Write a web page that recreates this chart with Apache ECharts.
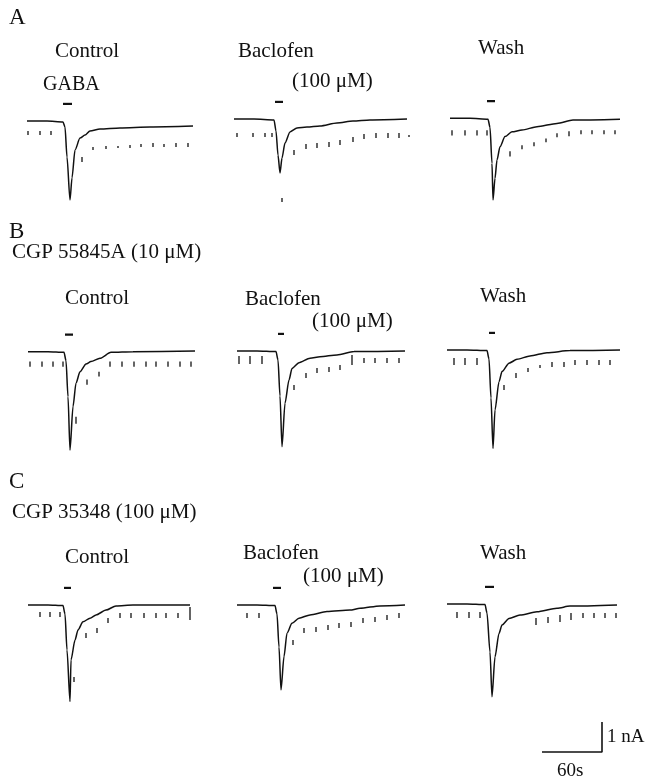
<!DOCTYPE html>
<html><head><meta charset="utf-8">
<script src="https://cdn.jsdelivr.net/npm/echarts@6/dist/echarts.min.js"></script>
<style>html,body{margin:0;padding:0;background:#fff}#c{width:645px;height:782px}</style>
</head><body><div id="c"></div>
<script>
// ---- DATA (time in s from trace start, current in nA) ----
const aControlT = [0,20,36,38,40,43,45,48,53,58,63,73,93,123,166];
const aControlI = [0,0,-0.03,-0.2,-1.2,-2.63,-1.9,-0.97,-0.57,-0.47,-0.33,-0.27,-0.23,-0.2,-0.17];
const aControlTickT = [1,13,24,55,66,79,91,103,114,126,137,149,161];
const aControlTickTop = [-0.33,-0.33,-0.33,-1.2,-0.87,-0.83,-0.83,-0.8,-0.77,-0.73,-0.77,-0.73,-0.73];
const aControlTickBot = [-0.47,-0.47,-0.47,-1.37,-0.97,-0.93,-0.9,-0.9,-0.87,-0.87,-0.87,-0.87,-0.87];

const aBacT = [0,20,40,42,44,46,48,51,56,63,73,86,103,119,136,173];
const aBacI = [0,0,-0.03,-0.4,-1.2,-1.8,-1.3,-0.8,-0.43,-0.3,-0.27,-0.23,-0.13,-0.07,-0.03,0];
const aBacTickT = [3,19,31,38,48,60,72,83,95,106,119,130,142,154,165,175];
const aBacTickTop = [-0.47,-0.47,-0.47,-0.47,-2.63,-1.03,-0.83,-0.8,-0.77,-0.7,-0.6,-0.5,-0.47,-0.47,-0.47,-0.53];
const aBacTickBot = [-0.6,-0.6,-0.6,-0.6,-2.77,-1.2,-1.0,-0.97,-0.93,-0.87,-0.77,-0.67,-0.63,-0.63,-0.63,-0.6];

const aWashT = [0,20,38,40,42,43,45,47,50,55,62,72,87,107,123,170];
const aWashI = [0,0,-0.03,-0.3,-1.5,-2.72,-2.0,-1.39,-0.95,-0.61,-0.45,-0.39,-0.28,-0.17,-0.06,-0.03];
const aWashTickT = [2,15,27,37,60,72,84,96,107,119,131,142,154,165];
const aWashTickTop = [-0.4,-0.4,-0.4,-0.4,-1.1,-0.9,-0.8,-0.67,-0.5,-0.43,-0.4,-0.4,-0.4,-0.4];
const aWashTickBot = [-0.57,-0.57,-0.57,-0.57,-1.27,-1.03,-0.93,-0.8,-0.63,-0.6,-0.53,-0.53,-0.53,-0.53];

const bControlT = [0,20,36,38,40,42,45,48,52,58,63,72,83,105,167];
const bControlI = [0,0,-0.02,-0.3,-1.5,-3.28,-1.83,-1.05,-0.67,-0.41,-0.33,-0.22,-0.02,0,0.02];
const bControlTickT = [2,14,25,35,48,59,71,82,94,106,118,128,140,152,163];
const bControlTickTop = [-0.33,-0.33,-0.33,-0.33,-2.17,-0.93,-0.67,-0.33,-0.33,-0.33,-0.33,-0.33,-0.33,-0.33,-0.33];
const bControlTickBot = [-0.5,-0.5,-0.5,-0.5,-2.4,-1.1,-0.83,-0.5,-0.5,-0.5,-0.5,-0.5,-0.5,-0.5,-0.5];

const bBacT = [0,20,39,41,43,45,48,52,55,62,73,83,100,117,168];
const bBacI = [0,0,-0.02,-0.3,-1.5,-3.19,-1.74,-0.97,-0.58,-0.39,-0.24,-0.19,-0.13,-0.02,0];
const bBacTickT = [2,13,25,57,69,80,92,103,115,127,138,150,162];
const bBacTickTop = [-0.17,-0.17,-0.17,-1.13,-0.73,-0.57,-0.53,-0.47,-0.13,-0.23,-0.23,-0.23,-0.23];
const bBacTickBot = [-0.43,-0.43,-0.43,-1.3,-0.9,-0.73,-0.7,-0.63,-0.47,-0.4,-0.4,-0.4,-0.4];

const bWashT = [0,20,40,42,44,46,48,52,55,62,70,83,100,123,173];
const bWashI = [0,0,-0.02,-0.3,-1.6,-3.28,-2.0,-1.06,-0.72,-0.44,-0.31,-0.2,-0.09,-0.02,0];
const bWashTickT = [7,18,30,57,69,81,93,105,117,128,140,152,163];
const bWashTickTop = [-0.27,-0.27,-0.27,-1.17,-0.77,-0.6,-0.5,-0.4,-0.4,-0.33,-0.33,-0.33,-0.33];
const bWashTickBot = [-0.5,-0.5,-0.5,-1.33,-0.93,-0.73,-0.6,-0.57,-0.57,-0.5,-0.5,-0.5,-0.5];

const cControlT = [0,20,35,37,39,42,43,47,50,55,62,68,78,88,105,162];
const cControlI = [0,0,-0.02,-0.3,-1.5,-3.22,-1.83,-1.17,-0.83,-0.56,-0.44,-0.33,-0.17,-0.03,0,0];
const cControlTickT = [12,22,32,46,58,69,80,92,103,116,128,138,150,162];
const cControlTickTop = [-0.23,-0.23,-0.23,-2.4,-0.93,-0.77,-0.43,-0.27,-0.27,-0.27,-0.27,-0.27,-0.27,-0.07];
const cControlTickBot = [-0.4,-0.4,-0.4,-2.57,-1.1,-0.93,-0.6,-0.43,-0.43,-0.43,-0.43,-0.43,-0.43,-0.5];

const cBacT = [0,20,38,40,42,44,47,50,55,62,73,90,113,123,143,168];
const cBacI = [0,0,-0.02,-0.3,-1.4,-2.83,-1.72,-0.94,-0.61,-0.44,-0.33,-0.22,-0.17,-0.11,-0.03,0];
const cBacTickT = [10,22,56,67,79,91,102,114,126,138,150,162];
const cBacTickTop = [-0.27,-0.27,-1.17,-0.77,-0.73,-0.67,-0.6,-0.57,-0.43,-0.4,-0.33,-0.27];
const cBacTickBot = [-0.43,-0.43,-1.33,-0.93,-0.9,-0.83,-0.77,-0.73,-0.6,-0.57,-0.5,-0.43];

const cWashT = [0,20,38,40,43,45,48,52,55,62,73,90,110,123,170];
const cWashI = [0,0,-0.02,-0.3,-1.6,-3.09,-1.76,-0.98,-0.7,-0.48,-0.37,-0.26,-0.14,-0.07,-0.03];
const cWashTickT = [10,22,33,89,101,113,124,136,147,158,169];
const cWashTickTop = [-0.27,-0.27,-0.27,-0.47,-0.43,-0.37,-0.3,-0.3,-0.3,-0.3,-0.3];
const cWashTickBot = [-0.47,-0.47,-0.47,-0.7,-0.63,-0.6,-0.53,-0.47,-0.47,-0.47,-0.47];

// GABA application bars (start, end in s) for the 9 traces (row-major)
const gabaStart = [36,41,37, 37,41,42, 36,36,38];
const gabaEnd   = [45,49,45, 45,47,48, 43,44,47];

// scale bar: 60 s, 1 nA
const scaleBarT = [0,60,60];
const scaleBarI = [0,0,1];

// ---- LAYOUT ----
const traces = [
  [aControlT,aControlI,aControlTickT,aControlTickTop,aControlTickBot],
  [aBacT,aBacI,aBacTickT,aBacTickTop,aBacTickBot],
  [aWashT,aWashI,aWashTickT,aWashTickTop,aWashTickBot],
  [bControlT,bControlI,bControlTickT,bControlTickTop,bControlTickBot],
  [bBacT,bBacI,bBacTickT,bBacTickTop,bBacTickBot],
  [bWashT,bWashI,bWashTickT,bWashTickTop,bWashTickBot],
  [cControlT,cControlI,cControlTickT,cControlTickTop,cControlTickBot],
  [cBacT,cBacI,cBacTickT,cBacTickTop,cBacTickBot],
  [cWashT,cWashI,cWashTickT,cWashTickTop,cWashTickBot]
];
const panelLeft = [27,234,450, 28,237,447, 28,237,447];
const panelBase = [121,119,118.3, 351.7,351,350, 605,605,604];
const PX_PER_NA = 30, YMAX = 1.0, YMIN = -3.5, XMAX = 180;
const gabaLevel = 0.57;

const grid = [], xAxis = [], yAxis = [], series = [];
const ink = '#111';
traces.forEach((tr, i) => {
  grid.push({left: panelLeft[i], top: panelBase[i] - YMAX*PX_PER_NA, width: XMAX, height: (YMAX-YMIN)*PX_PER_NA});
  xAxis.push({gridIndex: i, type: 'value', min: 0, max: XMAX, show: false});
  yAxis.push({gridIndex: i, type: 'value', min: YMIN, max: YMAX, show: false});
  const [t, I, tt, top, bot] = tr;
  series.push({type: 'line', xAxisIndex: i, yAxisIndex: i, data: t.map((v, k) => [v, I[k]]),
    showSymbol: false, symbol: 'none', smooth: 0.25, smoothMonotone: 'x', clip: false,
    lineStyle: {color: ink, width: 1.5}, animation: false, silent: true});
  const td = [];
  tt.forEach((v, k) => { td.push([v, top[k]]); td.push([v, bot[k]]); td.push([v, '-']); });
  series.push({type: 'line', xAxisIndex: i, yAxisIndex: i, data: td, connectNulls: false,
    showSymbol: false, symbol: 'none', clip: false,
    lineStyle: {color: '#111', width: 1.3}, animation: false, silent: true});
  series.push({type: 'line', xAxisIndex: i, yAxisIndex: i,
    data: [[gabaStart[i], gabaLevel], [gabaEnd[i], gabaLevel]],
    showSymbol: false, symbol: 'none', clip: false,
    lineStyle: {color: ink, width: 2.2}, animation: false, silent: true});
});
// scale bar grid
grid.push({left: 542, top: 722, width: 60, height: 30});
xAxis.push({gridIndex: 9, type: 'value', min: 0, max: 60, show: false});
yAxis.push({gridIndex: 9, type: 'value', min: 0, max: 1, show: false});
series.push({type: 'line', xAxisIndex: 9, yAxisIndex: 9, data: scaleBarT.map((v, k) => [v, scaleBarI[k]]),
  showSymbol: false, symbol: 'none', clip: false, lineStyle: {color: ink, width: 1.6}, animation: false});

// ---- TEXT ----
const FONT = '"Liberation Serif", "Times New Roman", serif';
function txt(s, x, baseline, size) {
  size = size || 21;
  return {type: 'text', x: x, y: baseline - size*0.35, silent: true,
    style: {text: s, fontFamily: FONT, fontSize: size, fill: ink, verticalAlign: 'middle', align: 'left'}};
}
const labels = [
  txt('A', 9, 26, 23), txt('Control', 55, 59), txt('GABA', 43, 92, 20), txt('Baclofen', 238, 59),
  txt('(100 \u03bcM)', 292, 89), txt('Wash', 478, 56),
  txt('B', 9, 240, 23), txt('CGP 55845A (10 \u03bcM)', 12, 260), txt('Control', 65, 306),
  txt('Baclofen', 245, 307), txt('(100 \u03bcM)', 312, 329), txt('Wash', 480, 304),
  txt('C', 9, 490, 23), txt('CGP 35348 (100 \u03bcM)', 12, 520), txt('Control', 65, 565),
  txt('Baclofen', 243, 561), txt('(100 \u03bcM)', 303, 584), txt('Wash', 480, 561),
  txt('1 nA', 607, 744, 19), txt('60s', 557, 778, 19)
];

const chart = echarts.init(document.getElementById('c'), null, {renderer: 'canvas'});
chart.setOption({backgroundColor: '#fff', animation: false, grid, xAxis, yAxis, series, graphic: labels});
</script></body></html>
